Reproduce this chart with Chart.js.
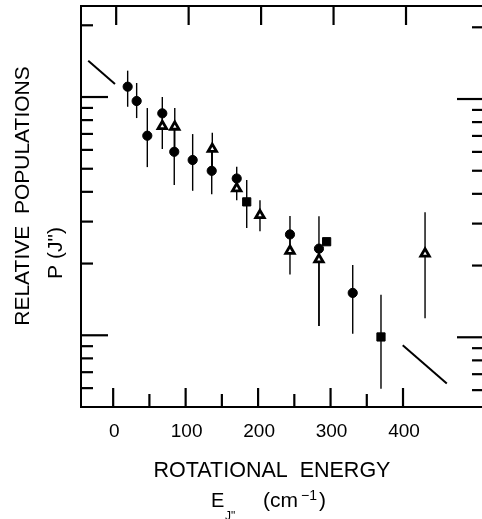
<!DOCTYPE html>
<html>
<head>
<meta charset="utf-8">
<script src="https://cdn.jsdelivr.net/npm/chart.js@4"></script>
<style>
html,body{margin:0;padding:0;background:#fff;}
canvas{display:block;}
</style>
</head>
<body>
<canvas id="c" width="482" height="519"></canvas>
<script>
// ---- data ----
const circleX  = [20.0, 32.4, 47.1, 67.8, 84.3, 109.7, 136.0, 170.5, 244.0, 284.0, 330.6];
const circleY  = [11.05, 9.62, 6.88, 8.54, 5.89, 5.44, 4.90, 4.55, 2.65, 2.31, 1.506];
const circleHi = [12.9, 11.45, 8.99, 10.0, 7.5, 6.99, 6.05, 5.10, 3.17, 3.16, 1.97];
const circleLo = [9.1, 8.16, 5.08, 7.55, 4.27, 4.04, 3.91, 4.13, 2.26, 1.094, 1.016];

const triX  = [67.8, 85.0, 136.8, 170.5, 202.6, 244.0, 284.0, 430.4];
const triY  = [7.55, 7.5, 6.05, 4.13, 3.19, 2.26, 2.08, 2.20];
const triHi = [8.54, 8.99, 7.08, 4.55, 3.69, 2.65, 2.31, 3.28];
const triLo = [6.05, 5.89, 4.90, 3.69, 2.73, 1.80, 1.094, 1.18];

const sqX  = [184.3, 294.6, 369.6];
const sqY  = [3.63, 2.47, 0.984];
const sqHi = [4.48, null, 1.48];
const sqLo = [2.82, null, 0.597];

const line1X = [-34.4, 2.5];
const line1Y = [14.2, 11.34];
const line2X = [399.6, 460.4];
const line2Y = [0.908, 0.627];

const xMajorTicks = [0, 100, 200, 300, 400];
const xMinorTicks = [50, 150, 250, 350];
const xTickLabels = ['0', '100', '200', '300', '400'];
const yMajorTicks = [1, 10];
const yMinorTicks = [0.6, 0.7, 0.8, 0.9, 2, 3, 4, 5, 6, 7, 8, 9, 20];

const xTitle = 'ROTATIONAL  ENERGY';
const yTitle1 = 'RELATIVE  POPULATIONS';
const yTitle2 = 'P (J")';

function pts(xs, ys){ return xs.map((x,i)=>({x:x, y:ys[i]})); }

const FONT = '"Liberation Sans", Arial, sans-serif';

const errorBars = {
  id: 'errorBars',
  beforeDatasetsDraw(chart){
    const ctx = chart.ctx, xs = chart.scales.x, ys = chart.scales.y;
    ctx.save();
    ctx.strokeStyle = '#000';
    ctx.lineWidth = 1.4;
    const draw = (X, L, H) => {
      X.forEach((x,i)=>{
        if (L[i]==null || H[i]==null) return;
        const px = xs.getPixelForValue(x);
        ctx.beginPath();
        ctx.moveTo(px, ys.getPixelForValue(H[i]));
        ctx.lineTo(px, ys.getPixelForValue(L[i]));
        ctx.stroke();
      });
    };
    draw(circleX, circleLo, circleHi);
    draw(triX, triLo, triHi);
    draw(sqX, sqLo, sqHi);
    ctx.restore();
  }
};

const frame = {
  id: 'frame',
  afterDraw(chart){
    const ctx = chart.ctx, a = chart.chartArea, xs = chart.scales.x, ys = chart.scales.y;
    ctx.save();
    ctx.strokeStyle = '#000';
    ctx.fillStyle = '#000';
    ctx.lineWidth = 2;
    ctx.lineCap = 'butt';
    // border: top, left, bottom
    ctx.beginPath();
    ctx.moveTo(a.right, a.top); ctx.lineTo(a.left, a.top);
    ctx.lineTo(a.left, a.bottom); ctx.lineTo(a.right, a.bottom);
    ctx.stroke();
    // x ticks
    ctx.lineWidth = 2.2;
    xMajorTicks.forEach(v=>{
      const p = xs.getPixelForValue(v);
      ctx.beginPath(); ctx.moveTo(p, a.bottom); ctx.lineTo(p, a.bottom-19); ctx.stroke();
      ctx.beginPath(); ctx.moveTo(p+3, a.top); ctx.lineTo(p+3, a.top+19); ctx.stroke();
    });
    xMinorTicks.forEach(v=>{
      const p = xs.getPixelForValue(v);
      ctx.beginPath(); ctx.moveTo(p, a.bottom); ctx.lineTo(p, a.bottom-13); ctx.stroke();
    });
    // y ticks left and right
    yMajorTicks.forEach(v=>{
      const p = ys.getPixelForValue(v);
      ctx.beginPath(); ctx.moveTo(a.left, p); ctx.lineTo(a.left+27, p); ctx.stroke();
      ctx.beginPath(); ctx.moveTo(a.right, p+2); ctx.lineTo(a.right-25, p+2); ctx.stroke();
    });
    yMinorTicks.forEach(v=>{
      const p = ys.getPixelForValue(v);
      ctx.beginPath(); ctx.moveTo(a.left, p); ctx.lineTo(a.left+12, p); ctx.stroke();
      ctx.beginPath(); ctx.moveTo(a.right, p+2); ctx.lineTo(a.right-10, p+2); ctx.stroke();
    });
    // tick labels
    ctx.font = '19px ' + FONT;
    ctx.textAlign = 'center';
    ctx.textBaseline = 'alphabetic';
    xMajorTicks.forEach((v,i)=>{
      ctx.fillText(xTickLabels[i], xs.getPixelForValue(v)+1, 437);
    });
    // x title
    ctx.font = '21.5px ' + FONT;
    ctx.fillText(xTitle, 272, 477);
    // second line: E_J'' (cm^-1)
    ctx.textAlign = 'left';
    ctx.font = '20px ' + FONT;
    ctx.fillText('E', 211, 507);
    ctx.font = '12px ' + FONT;
    ctx.fillText('J"', 225, 520);
    ctx.font = '21px ' + FONT;
    let cx = 263;
    ctx.fillText('(cm', cx, 507);
    cx += ctx.measureText('(cm').width + 3;
    ctx.font = '14px ' + FONT;
    ctx.fillText('\u22121', cx, 500);
    cx += ctx.measureText('\u22121').width + 2;
    ctx.font = '21px ' + FONT;
    ctx.fillText(')', cx, 507);
    // y title
    ctx.textAlign = 'center';
    ctx.textBaseline = 'middle';
    ctx.font = '21px ' + FONT;
    ctx.save();
    ctx.translate(23, 196); ctx.rotate(-Math.PI/2);
    ctx.fillText(yTitle1, 0, 0);
    ctx.restore();
    ctx.save();
    ctx.translate(56, 253); ctx.rotate(-Math.PI/2);
    ctx.fillText(yTitle2, 0, 0);
    ctx.restore();
    ctx.restore();
  }
};

new Chart(document.getElementById('c'), {
  type: 'scatter',
  data: {
    datasets: [
      { label:'line1', data: pts(line1X, line1Y), showLine:true, borderColor:'#000', borderWidth:2, pointRadius:0, fill:false },
      { label:'line2', data: pts(line2X, line2Y), showLine:true, borderColor:'#000', borderWidth:2, pointRadius:0, fill:false },
      { label:'circles', data: pts(circleX, circleY), pointStyle:'circle', pointRadius:4.6, backgroundColor:'#000', borderColor:'#000', borderWidth:1 },
      { label:'triangles', data: pts(triX, triY), pointStyle:'triangle', pointRadius:4.9, backgroundColor:'#fff', borderColor:'#000', borderWidth:2.8 },
      { label:'squares', data: pts(sqX, sqY), pointStyle:'rect', pointRadius:5.8, backgroundColor:'#000', borderColor:'#000', borderWidth:1 }
    ]
  },
  options: {
    responsive: false,
    devicePixelRatio: 1,
    animation: false,
    layout: { autoPadding: false, padding: { left: 81, top: 6, right: 0, bottom: 112 } },
    plugins: { legend: { display:false }, tooltip: { enabled:false } },
    scales: {
      x: { type:'linear', min:-44.4, max:509, display:false },
      y: { type:'logarithmic', min:0.5, max:24.1, display:false }
    }
  },
  plugins: [errorBars, frame]
});
</script>
</body>
</html>
